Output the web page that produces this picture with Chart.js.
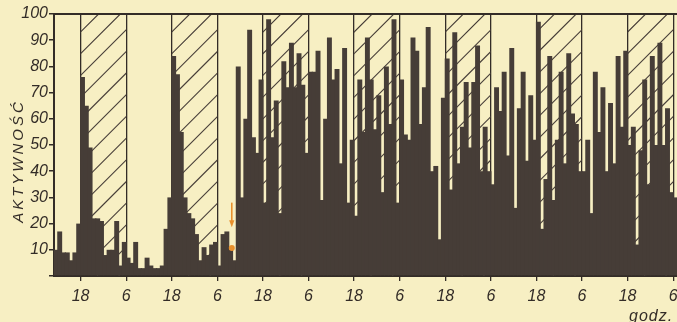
<!DOCTYPE html>
<html><head><meta charset="utf-8">
<script src="https://cdn.jsdelivr.net/npm/chart.js@4/dist/chart.umd.min.js"></script>
<style>html,body{margin:0;padding:0;background:#f7efc3;}#wrap{width:677px;height:322px;}</style>
</head><body><div id="wrap"><canvas id="c" width="677" height="322"></canvas></div>
<script>
// hourly activity, first bar starts at 11:00 of day 0
const firstHour = 11;
const day0 = [10,17,9,9,6,9,20,76,65,49,22,22,21];
const day1 = [8,10,10,21,4,13,7,5,13,3,3,7,4,3,3,4,18,30,84,77,55,30,24,22];
const day2 = [16,6,11,8,12,13,4,16,17,10,6,80,30,60,94,53,47,75,28,98,53,67,24,82];
const day3 = [72,89,72,85,73,47,78,78,86,29,60,91,75,79,43,87,28,52,23,75,55,91,75,56];
const day4 = [69,32,80,58,98,28,75,54,52,91,86,58,72,95,40,42,14,68,83,33,93,43,57,74];
const day5 = [49,74,88,40,57,40,35,72,63,78,46,87,26,64,78,44,69,52,97,18,37,84,29,52];
const day6 = [78,43,85,62,58,40,40,52,24,78,55,72,40,66,43,84,57,86,50,57,12,48,75,35];
const day7 = [84,50,89,50,64,32,30];
const activity = [...day0, ...day1, ...day2, ...day3, ...day4, ...day5, ...day6, ...day7];

// hour ticks (18:00 and 6:00) and night periods (hatched)
const tickHours = [18,30,42,54,66,78,90,102,114,126,138,150,162,174];
const nightStarts = [18,42,66,90,114,138,162];
const nightLength = 12;
const yMax = 100;
const yStep = 10;
const yTitle = 'AKTYWNOŚĆ';
const xUnit = 'godz.';
// orange marker (arrow + dot)
const markerHour = 57.8;
const arrowFrom = 28;
const arrowTo = 19;
const dotValue = 10.7;

const paper = '#f7efc3';
const ink = '#332c27';
const barColor = '#463d37';
const orange = '#e8902c';
const tickFont = {family: 'Liberation Sans', size: 16, style: 'italic', weight: 'normal'};

const decor = {
  id: 'decor',
  beforeDraw(chart) {
    const c = chart.ctx;
    c.save(); c.fillStyle = paper; c.fillRect(0, 0, chart.width, chart.height); c.restore();
  },
  beforeDatasetsDraw(chart) {
    const c = chart.ctx, a = chart.chartArea, xs = chart.scales.x;
    const sp = 21.7;
    c.save();
    c.strokeStyle = barColor; c.lineWidth = 1.1;
    nightStarts.forEach(s => {
      const x0 = xs.getPixelForValue(s), x1 = xs.getPixelForValue(s + nightLength);
      c.save();
      c.beginPath(); c.rect(x0, a.top, x1 - x0, a.bottom - a.top); c.clip();
      c.beginPath();
      for (let k = -2; k < 20; k++) {
        const cc = x0 + a.top + 18 + k * sp;
        c.moveTo(cc - a.bottom, a.bottom);
        c.lineTo(cc - a.top, a.top);
      }
      c.stroke();
      c.restore();
    });
    c.restore();
  },
  afterDraw(chart) {
    const c = chart.ctx, a = chart.chartArea, xs = chart.scales.x, ys = chart.scales.y;
    c.save();
    c.strokeStyle = ink; c.lineWidth = 2;
    c.beginPath(); c.moveTo(a.left - 1, a.top); c.lineTo(a.right, a.top); c.stroke();
    c.fillStyle = ink;
    c.font = 'italic 15px "Liberation Sans"';
    c.letterSpacing = '3px';
    c.textAlign = 'center'; c.textBaseline = 'middle';
    c.translate(19, 161); c.rotate(-Math.PI / 2);
    c.fillText(yTitle, 0, 0);
    c.restore();
    c.save();
    c.fillStyle = ink;
    c.font = 'italic 16px "Liberation Sans"';
    c.letterSpacing = '1px';
    c.textAlign = 'left'; c.textBaseline = 'alphabetic';
    c.fillText(xUnit, 629, 321);
    c.restore();
    const mx = xs.getPixelForValue(markerHour);
    const y1 = ys.getPixelForValue(arrowFrom), y2 = ys.getPixelForValue(arrowTo);
    c.save();
    c.strokeStyle = orange; c.fillStyle = orange; c.lineWidth = 1.6;
    c.beginPath(); c.moveTo(mx, y1); c.lineTo(mx, y2 - 4); c.stroke();
    c.beginPath(); c.moveTo(mx - 2.6, y2 - 6); c.lineTo(mx + 2.6, y2 - 6); c.lineTo(mx, y2 + 1); c.closePath(); c.fill();
    c.beginPath(); c.arc(mx, ys.getPixelForValue(dotValue), 3, 0, Math.PI * 2); c.fill();
    c.restore();
  }
};

new Chart(document.getElementById('c'), {
  type: 'bar',
  data: {
    datasets: [{
      data: activity.map((v, i) => ({x: firstHour + i + 0.5, y: v})),
      backgroundColor: barColor,
      borderWidth: 0,
      barPercentage: 1.3,
      categoryPercentage: 1
    }]
  },
  options: {
    responsive: false, animation: false, devicePixelRatio: 1,
    layout: {padding: {top: 14, left: 0, right: 0, bottom: 0}},
    plugins: {legend: {display: false}, tooltip: {enabled: false}},
    scales: {
      x: {
        type: 'linear', min: firstHour, max: firstHour + activity.length, offset: false,
        afterBuildTicks: s => { s.ticks = tickHours.map(v => ({value: v})); },
        afterFit: s => { s.height = 46; s.paddingLeft = 0; s.paddingRight = 0; },
        grid: {color: ink, lineWidth: 1.3, drawOnChartArea: true, drawTicks: true, tickLength: 5, tickColor: ink, offset: false},
        border: {color: ink, width: 2},
        ticks: {autoSkip: false, maxRotation: 0, padding: 6, color: ink, font: tickFont, callback: v => String(v % 24)}
      },
      y: {
        min: 0, max: yMax,
        afterFit: s => { s.width = 54; },
        grid: {drawOnChartArea: false, drawTicks: true, tickLength: 5, color: ink, lineWidth: 1.5},
        border: {color: ink, width: 2},
        ticks: {stepSize: yStep, padding: 1, color: ink, font: tickFont, callback: v => v === 0 ? '' : String(v)}
      }
    }
  },
  plugins: [decor]
});
</script>
</body></html>
